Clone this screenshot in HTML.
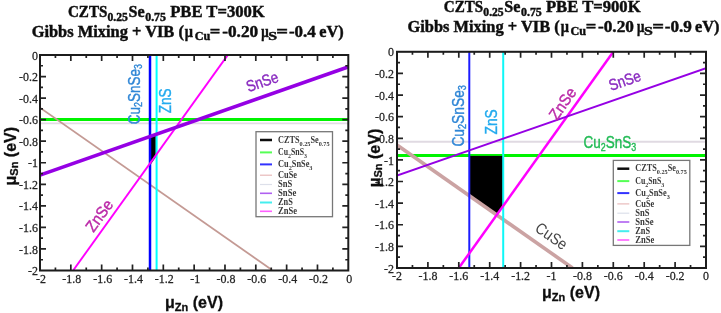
<!DOCTYPE html>
<html><head><meta charset="utf-8"><style>
html,body{margin:0;padding:0;background:#fff;overflow:hidden}
svg{display:block;will-change:transform}
text{font-family:"Liberation Serif", serif}
.s,.s text{font-family:"Liberation Sans", sans-serif}
</style></head><body>
<svg width="721" height="313" viewBox="0 0 721 313">
<defs><filter id="bl" filterUnits="userSpaceOnUse" x="0" y="0" width="721" height="313"><feGaussianBlur stdDeviation="0.4"/></filter></defs>
<rect width="721" height="313" fill="#fff"/>
<g filter="url(#bl)">
<g font-size="13" fill="#222" stroke="#222" stroke-width="0.25">
<clipPath id="cl"><rect x="40" y="55" width="308.30" height="215.50"/></clipPath>
<g clip-path="url(#cl)">
<line x1="40" y1="123.4" x2="349" y2="123.4" stroke="#e2dce4" stroke-width="1.6"/>
<line x1="40" y1="119.5" x2="349" y2="119.5" stroke="#00f400" stroke-width="3.2"/>
<line x1="40" y1="107.6" x2="272" y2="270" stroke="#c49a94" stroke-width="1.7"/>
<polygon points="150.5,137 155.8,134.5 155.8,157 150.5,164.5" fill="#000"/>
<line x1="150" y1="55" x2="150" y2="271" stroke="#0000ff" stroke-width="2.5"/>
<line x1="156.6" y1="55" x2="156.6" y2="271" stroke="#00ffff" stroke-width="2"/>
<line x1="73.5" y1="270" x2="227.8" y2="55" stroke="#ff00ff" stroke-width="2"/>
<line x1="40" y1="175.1" x2="348" y2="67" stroke="#9500e4" stroke-width="3.6"/>
</g>
<path d="M55.42 270.5v-3M55.42 55v3M40 259.73h3M348.3 259.73h-3M70.83 270.5v-6M70.83 55v6M40 248.95h6M348.3 248.95h-6M86.25 270.5v-3M86.25 55v3M40 238.17h3M348.3 238.17h-3M101.66 270.5v-6M101.66 55v6M40 227.40h6M348.3 227.40h-6M117.08 270.5v-3M117.08 55v3M40 216.62h3M348.3 216.62h-3M132.49 270.5v-6M132.49 55v6M40 205.85h6M348.3 205.85h-6M147.91 270.5v-3M147.91 55v3M40 195.07h3M348.3 195.07h-3M163.32 270.5v-6M163.32 55v6M40 184.30h6M348.3 184.30h-6M178.73 270.5v-3M178.73 55v3M40 173.53h3M348.3 173.53h-3M194.15 270.5v-6M194.15 55v6M40 162.75h6M348.3 162.75h-6M209.57 270.5v-3M209.57 55v3M40 151.97h3M348.3 151.97h-3M224.98 270.5v-6M224.98 55v6M40 141.20h6M348.3 141.20h-6M240.40 270.5v-3M240.40 55v3M40 130.43h3M348.3 130.43h-3M255.81 270.5v-6M255.81 55v6M40 119.65h6M348.3 119.65h-6M271.23 270.5v-3M271.23 55v3M40 108.88h3M348.3 108.88h-3M286.64 270.5v-6M286.64 55v6M40 98.10h6M348.3 98.10h-6M302.06 270.5v-3M302.06 55v3M40 87.32h3M348.3 87.32h-3M317.47 270.5v-6M317.47 55v6M40 76.55h6M348.3 76.55h-6M332.89 270.5v-3M332.89 55v3M40 65.77h3M348.3 65.77h-3" stroke="#222" stroke-width="1.7" fill="none"/>
<rect x="40" y="55" width="308.30" height="215.50" fill="none" stroke="#1c1c1c" stroke-width="2"/>
<text transform="translate(41.00,282.50) scale(0.92,1)" text-anchor="middle">-2</text>
<text transform="translate(38,275.10) scale(0.92,1)" text-anchor="end">-2</text>
<text transform="translate(71.83,282.50) scale(0.92,1)" text-anchor="middle">-1.8</text>
<text transform="translate(38,253.55) scale(0.92,1)" text-anchor="end">-1.8</text>
<text transform="translate(102.66,282.50) scale(0.92,1)" text-anchor="middle">-1.6</text>
<text transform="translate(38,232.00) scale(0.92,1)" text-anchor="end">-1.6</text>
<text transform="translate(133.49,282.50) scale(0.92,1)" text-anchor="middle">-1.4</text>
<text transform="translate(38,210.45) scale(0.92,1)" text-anchor="end">-1.4</text>
<text transform="translate(164.32,282.50) scale(0.92,1)" text-anchor="middle">-1.2</text>
<text transform="translate(38,188.90) scale(0.92,1)" text-anchor="end">-1.2</text>
<text transform="translate(195.15,282.50) scale(0.92,1)" text-anchor="middle">-1</text>
<text transform="translate(38,167.35) scale(0.92,1)" text-anchor="end">-1</text>
<text transform="translate(225.98,282.50) scale(0.92,1)" text-anchor="middle">-0.8</text>
<text transform="translate(38,145.80) scale(0.92,1)" text-anchor="end">-0.8</text>
<text transform="translate(256.81,282.50) scale(0.92,1)" text-anchor="middle">-0.6</text>
<text transform="translate(38,124.25) scale(0.92,1)" text-anchor="end">-0.6</text>
<text transform="translate(287.64,282.50) scale(0.92,1)" text-anchor="middle">-0.4</text>
<text transform="translate(38,102.70) scale(0.92,1)" text-anchor="end">-0.4</text>
<text transform="translate(318.47,282.50) scale(0.92,1)" text-anchor="middle">-0.2</text>
<text transform="translate(38,81.15) scale(0.92,1)" text-anchor="end">-0.2</text>
<text transform="translate(349.30,282.50) scale(0.92,1)" text-anchor="middle">0</text>
<text transform="translate(38,59.60) scale(0.92,1)" text-anchor="end">0</text>
</g>
<rect x="256" y="131.7" width="76.5" height="85" fill="#fff" stroke="#777" stroke-width="1.3"/>
<line x1="260" y1="140.0" x2="272" y2="140.0" stroke="#111" stroke-width="2.5"/>
<text x="278" y="142.6" font-size="9.3" font-weight="bold" fill="#383838" textLength="51.5" lengthAdjust="spacingAndGlyphs">CZTS<tspan font-size="7" dy="3">0.25</tspan><tspan dy="-3">Se</tspan><tspan font-size="7" dy="3">0.75</tspan></text>
<line x1="260" y1="152.39999999999998" x2="272" y2="152.39999999999998" stroke="#55ff55" stroke-width="2"/>
<text x="278" y="155.0" font-size="9.3" font-weight="bold" fill="#383838" textLength="29" lengthAdjust="spacingAndGlyphs">Cu<tspan font-size="7" dy="3">2</tspan><tspan dy="-3">SnS</tspan><tspan font-size="7" dy="3">3</tspan></text>
<line x1="260" y1="164.39999999999998" x2="272" y2="164.39999999999998" stroke="#3333ff" stroke-width="2"/>
<text x="278" y="167.0" font-size="9.3" font-weight="bold" fill="#383838" textLength="34.5" lengthAdjust="spacingAndGlyphs">Cu<tspan font-size="7" dy="3">2</tspan><tspan dy="-3">SnSe</tspan><tspan font-size="7" dy="3">3</tspan></text>
<line x1="260" y1="175.2" x2="272" y2="175.2" stroke="#e8baba" stroke-width="1.2"/>
<text x="278" y="177.8" font-size="9.3" font-weight="bold" fill="#383838" textLength="19" lengthAdjust="spacingAndGlyphs">CuSe</text>
<line x1="260" y1="184.5" x2="272" y2="184.5" stroke="#dde0ea" stroke-width="1.2"/>
<text x="278" y="187.1" font-size="9.3" font-weight="bold" fill="#383838" textLength="14.3" lengthAdjust="spacingAndGlyphs">SnS</text>
<line x1="260" y1="193.29999999999998" x2="272" y2="193.29999999999998" stroke="#b060f0" stroke-width="1.6"/>
<text x="278" y="195.9" font-size="9.3" font-weight="bold" fill="#383838" textLength="18.3" lengthAdjust="spacingAndGlyphs">SnSe</text>
<line x1="260" y1="202.5" x2="272" y2="202.5" stroke="#44eeee" stroke-width="2"/>
<text x="278" y="205.1" font-size="9.3" font-weight="bold" fill="#383838" textLength="14.8" lengthAdjust="spacingAndGlyphs">ZnS</text>
<line x1="260" y1="211.29999999999998" x2="272" y2="211.29999999999998" stroke="#ff60ff" stroke-width="1.6"/>
<text x="278" y="213.9" font-size="9.3" font-weight="bold" fill="#383838" textLength="19" lengthAdjust="spacingAndGlyphs">ZnSe</text>
<g font-size="13" fill="#222" stroke="#222" stroke-width="0.25">
<clipPath id="cr"><rect x="397" y="51.8" width="309.00" height="216.20"/></clipPath>
<g clip-path="url(#cr)">
<line x1="397" y1="141.8" x2="706" y2="141.8" stroke="#e0dae2" stroke-width="1.9"/>
<line x1="397" y1="155.5" x2="706" y2="155.5" stroke="#00f400" stroke-width="3.2"/>
<polygon points="469.5,156 503,156 503,206 496.6,215.5 469.5,196.5" fill="#000"/>
<line x1="397" y1="145" x2="572.5" y2="268" stroke="#cba3a3" stroke-width="3.6"/>
<line x1="469.3" y1="51" x2="469.3" y2="269" stroke="#1a1aff" stroke-width="2"/>
<line x1="503.2" y1="51" x2="503.2" y2="269" stroke="#11f8f8" stroke-width="2"/>
<line x1="458.8" y1="268" x2="613.3" y2="51.8" stroke="#ff00ff" stroke-width="2.5"/>
<line x1="397" y1="175.5" x2="706" y2="68.2" stroke="#9500e4" stroke-width="2"/>
</g>
<path d="M412.45 268v-3M412.45 51.8v3M397 257.19h3M706 257.19h-3M427.90 268v-6M427.90 51.8v6M397 246.38h6M706 246.38h-6M443.35 268v-3M443.35 51.8v3M397 235.57h3M706 235.57h-3M458.80 268v-6M458.80 51.8v6M397 224.76h6M706 224.76h-6M474.25 268v-3M474.25 51.8v3M397 213.95h3M706 213.95h-3M489.70 268v-6M489.70 51.8v6M397 203.14h6M706 203.14h-6M505.15 268v-3M505.15 51.8v3M397 192.33h3M706 192.33h-3M520.60 268v-6M520.60 51.8v6M397 181.52h6M706 181.52h-6M536.05 268v-3M536.05 51.8v3M397 170.71h3M706 170.71h-3M551.50 268v-6M551.50 51.8v6M397 159.90h6M706 159.90h-6M566.95 268v-3M566.95 51.8v3M397 149.09h3M706 149.09h-3M582.40 268v-6M582.40 51.8v6M397 138.28h6M706 138.28h-6M597.85 268v-3M597.85 51.8v3M397 127.47h3M706 127.47h-3M613.30 268v-6M613.30 51.8v6M397 116.66h6M706 116.66h-6M628.75 268v-3M628.75 51.8v3M397 105.85h3M706 105.85h-3M644.20 268v-6M644.20 51.8v6M397 95.04h6M706 95.04h-6M659.65 268v-3M659.65 51.8v3M397 84.23h3M706 84.23h-3M675.10 268v-6M675.10 51.8v6M397 73.42h6M706 73.42h-6M690.55 268v-3M690.55 51.8v3M397 62.61h3M706 62.61h-3" stroke="#222" stroke-width="1.7" fill="none"/>
<rect x="397" y="51.8" width="309.00" height="216.20" fill="none" stroke="#1c1c1c" stroke-width="2"/>
<text transform="translate(397.00,279.50) scale(0.92,1)" text-anchor="middle">-2</text>
<text transform="translate(394,272.60) scale(0.92,1)" text-anchor="end">-2</text>
<text transform="translate(427.90,279.50) scale(0.92,1)" text-anchor="middle">-1.8</text>
<text transform="translate(394,250.98) scale(0.92,1)" text-anchor="end">-1.8</text>
<text transform="translate(458.80,279.50) scale(0.92,1)" text-anchor="middle">-1.6</text>
<text transform="translate(394,229.36) scale(0.92,1)" text-anchor="end">-1.6</text>
<text transform="translate(489.70,279.50) scale(0.92,1)" text-anchor="middle">-1.4</text>
<text transform="translate(394,207.74) scale(0.92,1)" text-anchor="end">-1.4</text>
<text transform="translate(520.60,279.50) scale(0.92,1)" text-anchor="middle">-1.2</text>
<text transform="translate(394,186.12) scale(0.92,1)" text-anchor="end">-1.2</text>
<text transform="translate(551.50,279.50) scale(0.92,1)" text-anchor="middle">-1</text>
<text transform="translate(394,164.50) scale(0.92,1)" text-anchor="end">-1</text>
<text transform="translate(582.40,279.50) scale(0.92,1)" text-anchor="middle">-0.8</text>
<text transform="translate(394,142.88) scale(0.92,1)" text-anchor="end">-0.8</text>
<text transform="translate(613.30,279.50) scale(0.92,1)" text-anchor="middle">-0.6</text>
<text transform="translate(394,121.26) scale(0.92,1)" text-anchor="end">-0.6</text>
<text transform="translate(644.20,279.50) scale(0.92,1)" text-anchor="middle">-0.4</text>
<text transform="translate(394,99.64) scale(0.92,1)" text-anchor="end">-0.4</text>
<text transform="translate(675.10,279.50) scale(0.92,1)" text-anchor="middle">-0.2</text>
<text transform="translate(394,78.02) scale(0.92,1)" text-anchor="end">-0.2</text>
<text transform="translate(706.00,279.50) scale(0.92,1)" text-anchor="middle">0</text>
<text transform="translate(394,56.40) scale(0.92,1)" text-anchor="end">0</text>
</g>
<rect x="613.3" y="160.4" width="76.5" height="85" fill="#fff" stroke="#777" stroke-width="1.3"/>
<line x1="617.3" y1="168.70000000000002" x2="629.3" y2="168.70000000000002" stroke="#111" stroke-width="2.5"/>
<text x="635.3" y="171.3" font-size="9.3" font-weight="bold" fill="#383838" textLength="51.5" lengthAdjust="spacingAndGlyphs">CZTS<tspan font-size="7" dy="3">0.25</tspan><tspan dy="-3">Se</tspan><tspan font-size="7" dy="3">0.75</tspan></text>
<line x1="617.3" y1="181.1" x2="629.3" y2="181.1" stroke="#55ff55" stroke-width="2"/>
<text x="635.3" y="183.7" font-size="9.3" font-weight="bold" fill="#383838" textLength="29" lengthAdjust="spacingAndGlyphs">Cu<tspan font-size="7" dy="3">2</tspan><tspan dy="-3">SnS</tspan><tspan font-size="7" dy="3">3</tspan></text>
<line x1="617.3" y1="193.10000000000002" x2="629.3" y2="193.10000000000002" stroke="#3333ff" stroke-width="2"/>
<text x="635.3" y="195.7" font-size="9.3" font-weight="bold" fill="#383838" textLength="34.5" lengthAdjust="spacingAndGlyphs">Cu<tspan font-size="7" dy="3">2</tspan><tspan dy="-3">SnSe</tspan><tspan font-size="7" dy="3">3</tspan></text>
<line x1="617.3" y1="203.9" x2="629.3" y2="203.9" stroke="#e8baba" stroke-width="1.2"/>
<text x="635.3" y="206.5" font-size="9.3" font-weight="bold" fill="#383838" textLength="19" lengthAdjust="spacingAndGlyphs">CuSe</text>
<line x1="617.3" y1="213.2" x2="629.3" y2="213.2" stroke="#dde0ea" stroke-width="1.2"/>
<text x="635.3" y="215.8" font-size="9.3" font-weight="bold" fill="#383838" textLength="14.3" lengthAdjust="spacingAndGlyphs">SnS</text>
<line x1="617.3" y1="222.0" x2="629.3" y2="222.0" stroke="#b060f0" stroke-width="1.6"/>
<text x="635.3" y="224.6" font-size="9.3" font-weight="bold" fill="#383838" textLength="18.3" lengthAdjust="spacingAndGlyphs">SnSe</text>
<line x1="617.3" y1="231.2" x2="629.3" y2="231.2" stroke="#44eeee" stroke-width="2"/>
<text x="635.3" y="233.8" font-size="9.3" font-weight="bold" fill="#383838" textLength="14.8" lengthAdjust="spacingAndGlyphs">ZnS</text>
<line x1="617.3" y1="240.0" x2="629.3" y2="240.0" stroke="#ff60ff" stroke-width="1.6"/>
<text x="635.3" y="242.6" font-size="9.3" font-weight="bold" fill="#383838" textLength="19" lengthAdjust="spacingAndGlyphs">ZnSe</text>
<g font-weight="bold" fill="#111" stroke="#111" stroke-width="0.45">
<text x="67.95" y="17.2" font-size="16" textLength="39.39" lengthAdjust="spacingAndGlyphs">CZTS</text>
<text x="107.54" y="20.5" font-size="11.5" textLength="20.33" lengthAdjust="spacingAndGlyphs">0.25</text>
<text x="128.59" y="17.2" font-size="16" textLength="16.13" lengthAdjust="spacingAndGlyphs">Se</text>
<text x="145.23" y="20.5" font-size="11.5" textLength="20.75" lengthAdjust="spacingAndGlyphs">0.75</text>
<text x="170.17" y="17.2" font-size="16" textLength="94.62" lengthAdjust="spacingAndGlyphs">PBE T=300K</text>
<text x="31.68" y="36.6" font-size="16" textLength="152.21" lengthAdjust="spacingAndGlyphs">Gibbs Mixing + VIB (</text>
<text x="184.86" y="36.6" font-size="16" textLength="8.14" lengthAdjust="spacingAndGlyphs">μ</text>
<text x="194.79" y="39.9" font-size="11.5" textLength="15.55" lengthAdjust="spacingAndGlyphs">Cu</text>
<text x="209.87" y="36.6" font-size="16" textLength="10.55" lengthAdjust="spacingAndGlyphs">=</text>
<text x="222.21" y="36.6" font-size="16" textLength="35.93" lengthAdjust="spacingAndGlyphs">-0.20</text>
<text x="261.17" y="36.6" font-size="16" textLength="7.42" lengthAdjust="spacingAndGlyphs">μ</text>
<text x="268.21" y="39.9" font-size="11.5" textLength="8.82" lengthAdjust="spacingAndGlyphs">S</text>
<text x="276.37" y="36.6" font-size="16" textLength="11.76" lengthAdjust="spacingAndGlyphs">=</text>
<text x="288.92" y="36.6" font-size="16" textLength="26.76" lengthAdjust="spacingAndGlyphs">-0.4</text>
<text x="319.21" y="36.6" font-size="16" textLength="24.43" lengthAdjust="spacingAndGlyphs">eV)</text>
<text x="443.75" y="12.4" font-size="16" textLength="39.39" lengthAdjust="spacingAndGlyphs">CZTS</text>
<text x="483.34" y="15.7" font-size="11.5" textLength="20.33" lengthAdjust="spacingAndGlyphs">0.25</text>
<text x="504.39" y="12.4" font-size="16" textLength="16.13" lengthAdjust="spacingAndGlyphs">Se</text>
<text x="521.03" y="15.7" font-size="11.5" textLength="20.75" lengthAdjust="spacingAndGlyphs">0.75</text>
<text x="545.97" y="12.4" font-size="16" textLength="94.62" lengthAdjust="spacingAndGlyphs">PBE T=900K</text>
<text x="407.48" y="31.8" font-size="16" textLength="152.21" lengthAdjust="spacingAndGlyphs">Gibbs Mixing + VIB (</text>
<text x="560.66" y="31.8" font-size="16" textLength="8.14" lengthAdjust="spacingAndGlyphs">μ</text>
<text x="570.59" y="35.1" font-size="11.5" textLength="15.55" lengthAdjust="spacingAndGlyphs">Cu</text>
<text x="585.67" y="31.8" font-size="16" textLength="10.55" lengthAdjust="spacingAndGlyphs">=</text>
<text x="598.01" y="31.8" font-size="16" textLength="35.93" lengthAdjust="spacingAndGlyphs">-0.20</text>
<text x="636.97" y="31.8" font-size="16" textLength="7.42" lengthAdjust="spacingAndGlyphs">μ</text>
<text x="644.01" y="35.1" font-size="11.5" textLength="8.82" lengthAdjust="spacingAndGlyphs">S</text>
<text x="652.17" y="31.8" font-size="16" textLength="11.76" lengthAdjust="spacingAndGlyphs">=</text>
<text x="664.71" y="31.8" font-size="16" textLength="27.12" lengthAdjust="spacingAndGlyphs">-0.9</text>
<text x="695.01" y="31.8" font-size="16" textLength="24.43" lengthAdjust="spacingAndGlyphs">eV)</text>
</g>
<g class="s" font-weight="bold" font-size="16" fill="#111" stroke="#111" stroke-width="0.3">
<text x="194" y="308.4" text-anchor="middle">μ<tspan font-size="11" dy="2.2">Zn</tspan><tspan dy="-2.2"> (eV)</tspan></text>
<text x="571" y="298.3" text-anchor="middle">μ<tspan font-size="11" dy="2.2">Zn</tspan><tspan dy="-2.2"> (eV)</tspan></text>
<text transform="translate(15.8,156.2) rotate(-90)" text-anchor="middle">μ<tspan font-size="11" dy="2.2">Sn</tspan><tspan dy="-2.2"> (eV)</tspan></text>
<text transform="translate(380.2,158) rotate(-90)" text-anchor="middle">μ<tspan font-size="11" dy="2.2">Sn</tspan><tspan dy="-2.2"> (eV)</tspan></text>
</g>
<g class="s" font-size="16" stroke-width="0.4">
<text fill="#2f86d6" stroke="#2f86d6" transform="translate(140.3,124.2) rotate(-90)" textLength="60" lengthAdjust="spacingAndGlyphs">Cu<tspan font-size="10.5" dy="2">2</tspan><tspan dy="-2">SnSe</tspan><tspan font-size="10.5" dy="2">3</tspan></text>
<text fill="#22aaee" stroke="#22aaee" transform="translate(171.4,113.2) rotate(-90)" textLength="24.8" lengthAdjust="spacingAndGlyphs">ZnS</text>
<text fill="#8a2bc0" stroke="#8a2bc0" transform="translate(248.5,92.3) rotate(-19.2)" textLength="33" lengthAdjust="spacingAndGlyphs">SnSe</text>
<text fill="#bb2aa8" stroke="#bb2aa8" transform="translate(93.5,233) rotate(-54.3)" textLength="35" lengthAdjust="spacingAndGlyphs">ZnSe</text>
<text fill="#2f86d6" stroke="#2f86d6" transform="translate(464.3,146.6) rotate(-90)" textLength="61.5" lengthAdjust="spacingAndGlyphs">Cu<tspan font-size="10.5" dy="2">2</tspan><tspan dy="-2">SnSe</tspan><tspan font-size="10.5" dy="2">3</tspan></text>
<text fill="#22aaee" stroke="#22aaee" transform="translate(496.6,134.5) rotate(-90)" textLength="25.2" lengthAdjust="spacingAndGlyphs">ZnS</text>
<text fill="#8a2bc0" stroke="#8a2bc0" transform="translate(611,91) rotate(-19)" textLength="33" lengthAdjust="spacingAndGlyphs">SnSe</text>
<text fill="#bb2aa8" stroke="#bb2aa8" transform="translate(557,121) rotate(-55)" textLength="35" lengthAdjust="spacingAndGlyphs">ZnSe</text>
<text fill="#22bb55" stroke="#22bb55" x="583.6" y="147.9" textLength="52.5" lengthAdjust="spacingAndGlyphs">Cu<tspan font-size="10.5" dy="3.2">2</tspan><tspan dy="-3.2">SnS</tspan><tspan font-size="10.5" dy="3.2">3</tspan></text>
<text fill="#444" stroke="none" transform="translate(534,230.5) rotate(35)" textLength="35" lengthAdjust="spacingAndGlyphs">CuSe</text>
</g>
</g>
</svg>
</body></html>
